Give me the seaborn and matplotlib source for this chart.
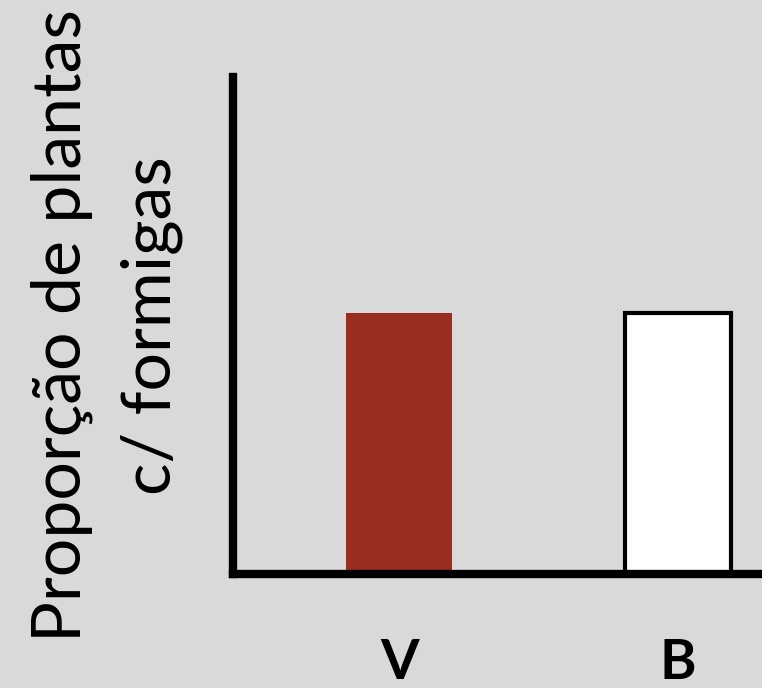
import matplotlib
matplotlib.use("Agg")
import matplotlib.pyplot as plt
import seaborn as sns
import pandas as pd

# Data
categories = ["V", "B"]
proportions = [0.525, 0.525]
bar_colors = ["#992d20", "#ffffff"]

df = pd.DataFrame({"Cor": categories, "Prop": proportions})

sns.set_style("white")
plt.rcParams["font.family"] = ["Lato", "DejaVu Sans"]
plt.rcParams["text.color"] = "black"
plt.rcParams["axes.labelcolor"] = "black"
plt.rcParams["xtick.color"] = "black"

bg = "#d9d9d9"
fig = plt.figure(figsize=(7.62, 6.88), dpi=100, facecolor=bg)
ax = fig.add_axes([0.306, 0.166, 0.694, 0.722])
ax.set_facecolor(bg)

sns.barplot(data=df, x="Cor", y="Prop", hue="Cor", palette=bar_colors,
            legend=False, width=0.38, ax=ax, saturation=1)

# white bar gets a black outline
ax.patches[1].set_edgecolor("black")
ax.patches[1].set_linewidth(3)
ax.patches[0].set_linewidth(0)

ax.set_xlim(-0.595, 1.301)
ax.set_ylim(0, 1)

for s in ["top", "right"]:
    ax.spines[s].set_visible(False)
for s in ["left", "bottom"]:
    ax.spines[s].set_linewidth(6)
    ax.spines[s].set_color("black")
    ax.spines[s].set_zorder(5)

ax.set_yticks([])
ax.tick_params(axis="x", length=0, pad=46, labelcolor="black")
for lbl in ax.get_xticklabels():
    lbl.set_fontsize(40)
    lbl.set_fontweight("bold")

ax.set_xlabel("")
ax.set_ylabel("Proporção de plantas\nc/ formigas", fontsize=49, labelpad=36,
              linespacing=1.55, color="black")

fig.savefig("out.png", dpi=100, facecolor=bg)
